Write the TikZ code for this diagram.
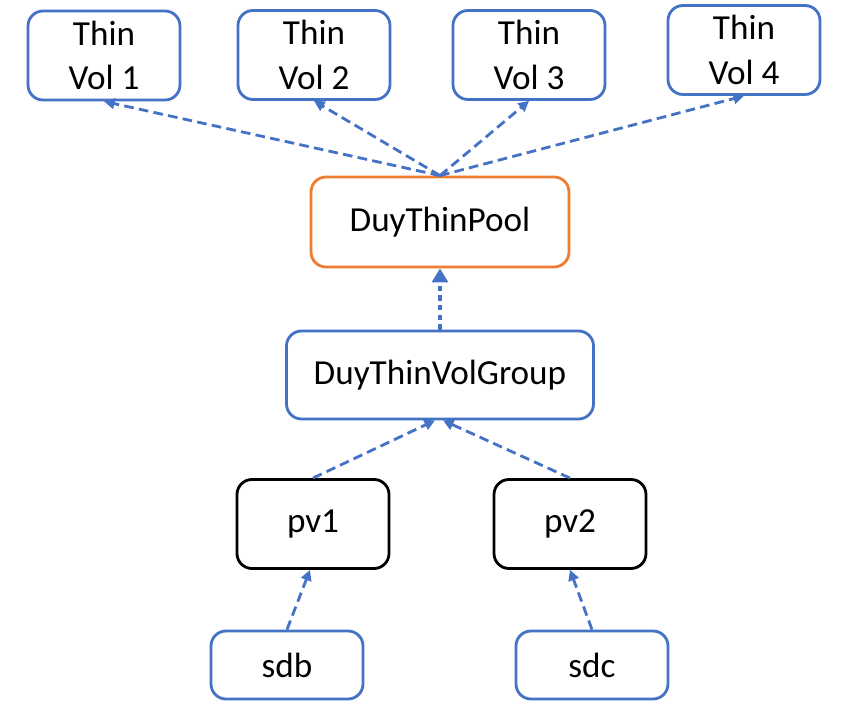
\documentclass[tikz,border=0pt]{standalone}
\usepackage{fontspec}
\setmainfont{Carlito}
\usetikzlibrary{arrows.meta}
\definecolor{lvmblue}{RGB}{68,114,196}
\definecolor{lvmorange}{RGB}{237,125,49}
\begin{document}
\begin{tikzpicture}[
		box/.style={draw=lvmblue, line width=1.6pt, rounded corners=0.3cm, fill=white,
			minimum width=3.04cm, minimum height=1.78cm, align=center,
			font=\fontsize{20}{25.5}\selectfont},
		link/.style={lvmblue, line width=1.6pt, dash pattern=on 5.5pt off 3pt,
			-{Triangle[length=6pt,width=6pt]}}
	]
		\useasboundingbox (0,0) rectangle (17.16,14.38);
		
		% Thin volumes
		\node[box] (vol1) at (2.08, 13.27) {Thin\\Vol 1};
		\node[box] (vol2) at (6.28, 13.28) {Thin\\Vol 2};
		\node[box] (vol3) at (10.58, 13.28) {Thin\\Vol 3};
		\node[box] (vol4) at (14.88, 13.38) {Thin\\Vol 4};
		
		% Pool and volume group
		\node[box, draw=lvmorange, minimum width=5.16cm, minimum height=1.8cm] (pool) at (8.80, 9.94) {DuyThinPool};
		\node[box, minimum width=6.14cm, minimum height=1.76cm] (group) at (8.80, 6.88) {DuyThinVolGroup};
		
		% Physical volumes
		\node[box, draw=black] (pv1) at (6.26, 3.90) {pv1};
		\node[box, draw=black] (pv2) at (11.40, 3.90) {pv2};
		
		% Disks
		\node[box, minimum height=1.36cm] (sdb) at (5.74, 1.08) {sdb};
		\node[box, minimum height=1.36cm] (sdc) at (11.84, 1.08) {sdc};
		
		% Links
		\foreach \v in {vol1,vol2,vol3,vol4}
			\draw[link] (pool.north) -- (\v.south);
		\draw[link, line width=2.8pt, dash pattern=on 3pt off 2.5pt,
			-{Triangle[length=8pt,width=9pt]}] (group.north) -- (pool.south);
		\draw[link] (pv1.north) -- ([xshift=-0.1cm]group.south);
		\draw[link] (pv2.north) -- ([xshift=0.06cm]group.south);
		\draw[link] (sdb.north) -- ([xshift=-0.06cm]pv1.south);
		\draw[link] (sdc.north) -- (pv2.south);
	\end{tikzpicture}
\end{document}
